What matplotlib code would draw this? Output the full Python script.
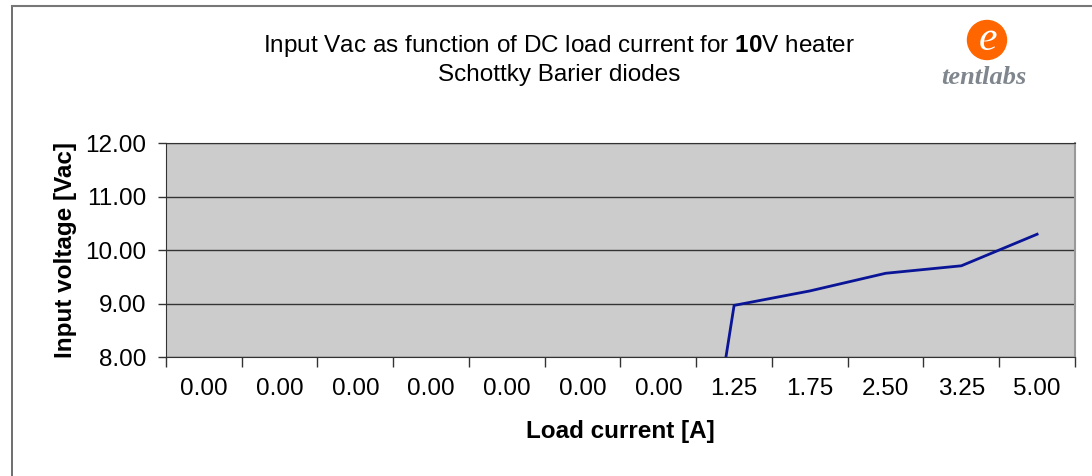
import matplotlib
matplotlib.use("Agg")
from matplotlib import pyplot as plt
from matplotlib.lines import Line2D
from matplotlib.patches import Circle

# load current categories (Excel category axis) and measured input voltage
currents = ["0.00", "0.00", "0.00", "0.00", "0.00", "0.00", "0.00",
            "1.25", "1.75", "2.50", "3.25", "5.00"]
voltages = [0, 0, 0, 0, 0, 0, 0, 8.97, 9.24, 9.57, 9.71, 10.30]
yticks = [8.0, 9.0, 10.0, 11.0, 12.0]

plt.rcParams['font.family'] = ['Liberation Sans', 'DejaVu Sans']
plt.rcParams['mathtext.fontset'] = 'custom'
plt.rcParams['mathtext.rm'] = 'Liberation Sans'
plt.rcParams['mathtext.bf'] = 'Liberation Sans:bold'


def vac_chart():
    fig = plt.figure(figsize=(10.92, 4.76), dpi=100)
    ax = fig.add_axes([0.152, 0.2494, 0.8324, 0.4496])
    ax.set_facecolor("#cccccc")

    xs = [i + 0.5 for i in range(len(currents))]
    ax.plot(xs, voltages, color="#0a1496", lw=2.0, solid_joinstyle="miter")

    ax.set_xlim(0, len(currents))
    ax.set_ylim(8, 12)
    ax.set_yticks(yticks)
    ax.set_yticklabels(["%.2f" % v for v in yticks], fontsize=17.5)
    ax.yaxis.grid(True, color="#333333", lw=1.0)
    ax.set_axisbelow(True)

    # category boundaries get the tick marks, centres get the labels
    ax.set_xticks(range(len(currents) + 1))
    ax.set_xticklabels([])
    ax.set_xticks(xs, minor=True)
    ax.set_xticklabels(currents, minor=True, fontsize=17.5)
    ax.tick_params(axis="x", which="major", length=7, width=1, color="#333333")
    ax.tick_params(axis="x", which="minor", length=0, pad=15)
    ax.tick_params(axis="y", length=6, width=1, color="#333333", pad=8)

    for s in ["left", "bottom"]:
        ax.spines[s].set_color("#333333")
    ax.spines["top"].set_color("#333333")
    ax.spines["right"].set_color("#999999")
    ax.spines["right"].set_linewidth(1.5)

    ax.set_xlabel("Load current [A]", fontsize=17.5, fontweight="bold", labelpad=14)
    ax.set_ylabel("Input voltage [Vac]", fontsize=17.5, fontweight="bold", labelpad=6)

    fig.text(0.512, 0.903, r"Input Vac as function of DC load current for $\mathbf{10}$V heater",
             ha="center", va="center", fontsize=17.5)
    fig.text(0.512, 0.842, "Schottky Barier diodes", ha="center", va="center", fontsize=17.5)

    # tentlabs logo
    fig.add_artist(Circle((9.87, 4.36), 0.195, transform=fig.dpi_scale_trans,
                          color="#ff6600", zorder=5))
    fig.text(9.88, 4.36, "e", color="white", fontsize=30, fontstyle="italic",
             family="Liberation Serif", ha="center", va="center", zorder=6,
             transform=fig.dpi_scale_trans)
    fig.text(9.84, 3.98, "tentlabs", color="#7f868d", fontsize=19,
             fontstyle="italic", fontweight="bold", family="Liberation Serif",
             ha="center", va="center", transform=fig.dpi_scale_trans)

    # chart area border (only left and top visible)
    fig.add_artist(Line2D([12 / 1092, 12 / 1092], [0, 1 - 6 / 476], color="#555555", lw=1.2))
    fig.add_artist(Line2D([12 / 1092, 1], [1 - 6 / 476, 1 - 6 / 476], color="#777777", lw=1.5))

    fig.savefig("out.png", dpi=100)


if __name__ == "__main__":
    vac_chart()
